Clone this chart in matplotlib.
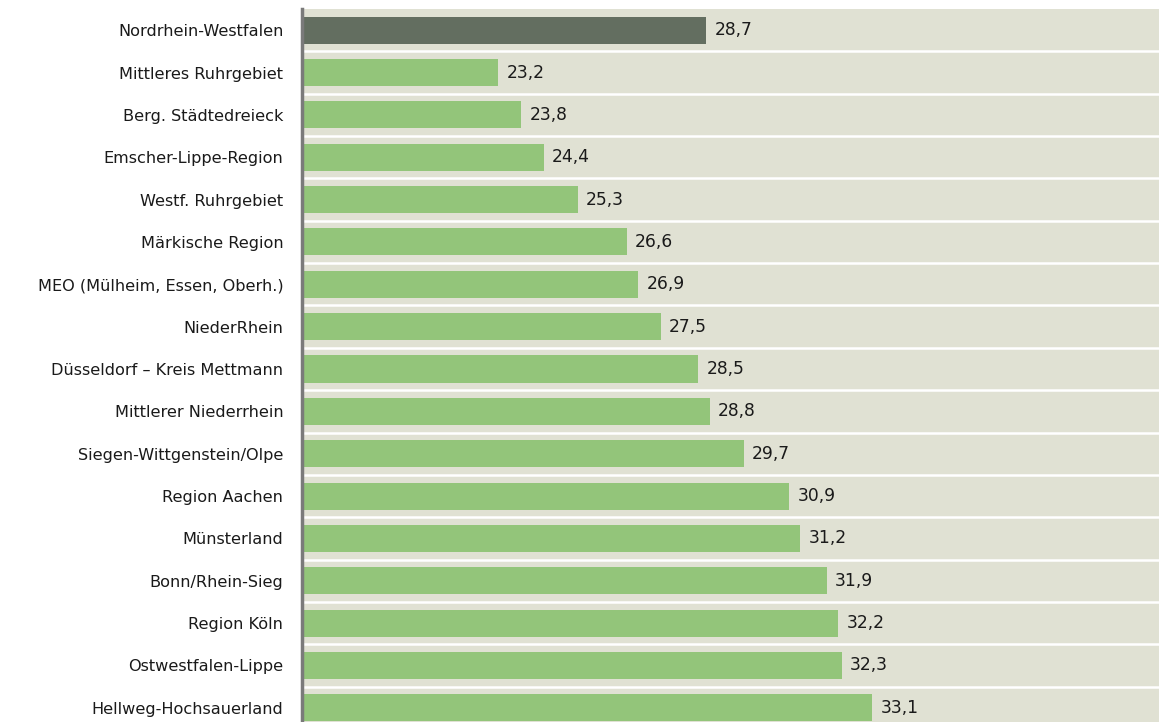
import matplotlib.pyplot as plt

regions = [
    "Nordrhein-Westfalen",
    "Mittleres Ruhrgebiet",
    "Berg. Städtedreieck",
    "Emscher-Lippe-Region",
    "Westf. Ruhrgebiet",
    "Märkische Region",
    "MEO (Mülheim, Essen, Oberh.)",
    "NiederRhein",
    "Düsseldorf – Kreis Mettmann",
    "Mittlerer Niederrhein",
    "Siegen-Wittgenstein/Olpe",
    "Region Aachen",
    "Münsterland",
    "Bonn/Rhein-Sieg",
    "Region Köln",
    "Ostwestfalen-Lippe",
    "Hellweg-Hochsauerland",
]
values = [28.7, 23.2, 23.8, 24.4, 25.3, 26.6, 26.9, 27.5, 28.5, 28.8,
          29.7, 30.9, 31.2, 31.9, 32.2, 32.3, 33.1]

fig = plt.figure(figsize=(11.59, 7.22), dpi=100)
W, H = 1159, 722
ax = fig.add_axes([302 / W, -7 / H, (W - 302) / W, (729 - 9) / H])
ax.set_facecolor("#e0e1d3")

n = len(regions)
ypos = list(range(n))
colors = ["#636e60"] + ["#93c57a"] * (n - 1)
ax.barh(ypos, values, left=0, height=0.64, color=colors, zorder=2)

for y, v in zip(ypos, values):
    ax.text(v + 0.22, y, f"{v:.1f}".replace(".", ","), va="center", ha="left",
            fontsize=12.3, color="#1a1a1a", zorder=3)

for i in range(n - 1):
    ax.axhline(i + 0.5, color="white", lw=1.8, zorder=1)

ax.set_xlim(18, 40.7)
ax.set_ylim(n - 0.5, -0.5)
ax.set_yticks(ypos)
ax.set_yticklabels(regions, fontsize=11.6, color="#1a1a1a")
ax.tick_params(axis="y", length=0, pad=13.5)
ax.set_xticks([])
for s in ["top", "right", "bottom"]:
    ax.spines[s].set_visible(False)
ax.spines["left"].set_color("#7a7a7a")
ax.spines["left"].set_linewidth(2.5)

fig.savefig("out.png", dpi=100)
